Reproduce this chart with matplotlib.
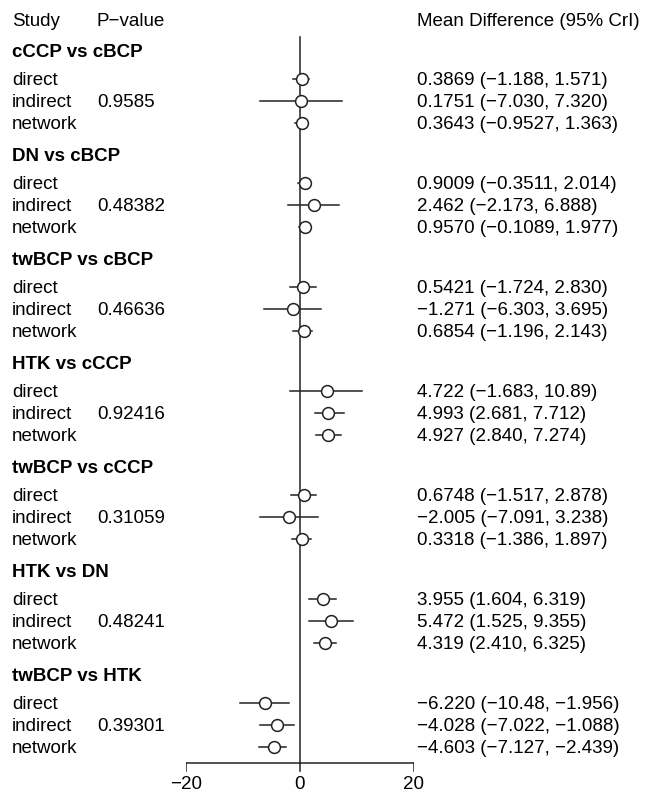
import numpy as np
import matplotlib
matplotlib.use('Agg')
import matplotlib.pyplot as plt
import matplotlib.transforms as mtransforms

plt.rcParams['font.family'] = ['Liberation Sans', 'DejaVu Sans']

# comparaisons et estimations (direct, indirect, network)
comparisons = ['cCCP vs cBCP', 'DN vs cBCP', 'twBCP vs cBCP', 'HTK vs cCCP',
               'twBCP vs cCCP', 'HTK vs DN', 'twBCP vs HTK']
p_values = ['0.9585', '0.48382', '0.46636', '0.92416', '0.31059', '0.48241', '0.39301']
est = [[0.3869, 0.1751, 0.3643],
       [0.9009, 2.462, 0.9570],
       [0.5421, -1.271, 0.6854],
       [4.722, 4.993, 4.927],
       [0.6748, -2.005, 0.3318],
       [3.955, 5.472, 4.319],
       [-6.220, -4.028, -4.603]]
lower = [[-1.188, -7.030, -0.9527],
         [-0.3511, -2.173, -0.1089],
         [-1.724, -6.303, -1.196],
         [-1.683, 2.681, 2.840],
         [-1.517, -7.091, -1.386],
         [1.604, 1.525, 2.410],
         [-10.48, -7.022, -7.127]]
upper = [[1.571, 7.320, 1.363],
         [2.014, 6.888, 1.977],
         [2.830, 3.695, 2.143],
         [10.89, 7.712, 7.274],
         [2.878, 3.238, 1.897],
         [6.319, 9.355, 6.325],
         [-1.956, -1.088, -2.439]]
sources = ['direct', 'indirect', 'network']
ticks = [-20, 0, 20]

W, H = 649, 795
fig = plt.figure(figsize=(W / 100, H / 100), dpi=100)
ax = fig.add_axes([186 / W, 0, 228 / W, 1])
ax.set_xlim(-20, 20)
ax.set_ylim(H, 0)  # lignes en pixels depuis le haut
ax.axis('off')

# x en fraction de figure, y en unités des données
trans = mtransforms.blended_transform_factory(fig.transFigure, ax.transData)

def fmt(v):
    return ('%#.4g' % v).replace('-', '\u2212')

fs = 13.5
dy = 1.5  # petit décalage du texte
ax.text(12 / W, 20 + dy, 'Study', transform=trans, fontsize=fs, va='center')
ax.text(97 / W, 20 + dy, 'P\u2212value', transform=trans, fontsize=fs, va='center')
ax.text(417 / W, 20 + dy, 'Mean Difference (95% CrI)', transform=trans, fontsize=fs, va='center')

axis_y = 763
ax.plot([0, 0], [37, axis_y], color='#222222', lw=1.1, zorder=1)

for i, comp in enumerate(comparisons):
    y0 = 51 + i * 104
    ax.text(12 / W, y0 + dy, comp, transform=trans, fontsize=fs, fontweight='bold', va='center')
    for j, src in enumerate(sources):
        y = y0 + 28 + j * 22
        ax.text(12 / W, y + dy, src, transform=trans, fontsize=fs, va='center')
        if src == 'indirect':
            ax.text(97 / W, y + dy, p_values[i], transform=trans, fontsize=fs, va='center')
        ax.plot([lower[i][j], upper[i][j]], [y, y], color='#222222', lw=1.1, zorder=2)
        ax.plot(est[i][j], y, 'o', ms=8.5, mfc='white', mec='#222222', mew=1.1, zorder=3)
        label = '%s (%s, %s)' % (fmt(est[i][j]), fmt(lower[i][j]), fmt(upper[i][j]))
        ax.text(417 / W, y + dy, label, transform=trans, fontsize=fs, va='center')

# axe des x dessiné à la main
ax.plot([ticks[0], ticks[-1]], [axis_y, axis_y], color='#222222', lw=1.1)
for t in ticks:
    ax.plot([t, t], [axis_y, axis_y + 8], color='#222222', lw=1.1)
    ax.text(t, axis_y + 20 + dy, str(t).replace('-', '\u2212'), fontsize=fs,
            ha='center', va='center')

fig.savefig('out.png', dpi=100)
